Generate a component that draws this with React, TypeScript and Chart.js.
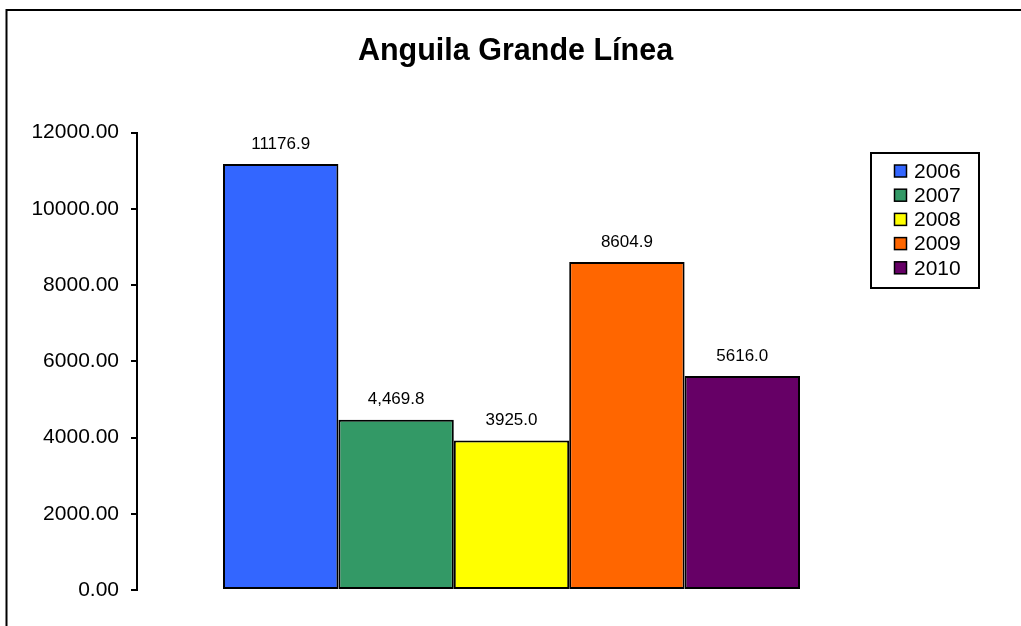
import React, { useEffect, useRef } from "react";
import { Chart, registerables } from "chart.js";

Chart.register(...registerables);

const TITLE = "Anguila Grande Línea";
const CATEGORIES = [""];
const SERIES_LABELS = ["2006", "2007", "2008", "2009", "2010"];
const SERIES_VALUES = [11176.9, 4469.8, 3925.0, 8604.9, 5616.0];
const VALUE_LABELS = ["11176.9", "4,469.8", "3925.0", "8604.9", "5616.0"];
const SERIES_COLORS = ["#3366FF", "#339966", "#FFFF00", "#FF6600", "#660066"];
const Y_MIN = 0;
const Y_MAX = 12000;
const Y_STEP = 2000;

const FONT = "'Liberation Sans', Arial, Helvetica, sans-serif";

const decorPlugin = {
  id: "decor",
  beforeDraw(chart: any) {
    const ctx = chart.ctx;
    ctx.save();
    ctx.fillStyle = "#ffffff";
    ctx.fillRect(0, 0, chart.width, chart.height);
    ctx.strokeStyle = "#000";
    ctx.lineWidth = 2;
    ctx.beginPath();
    ctx.moveTo(6.5, chart.height + 10);
    ctx.lineTo(6.5, 10);
    ctx.lineTo(chart.width + 10, 10);
    ctx.stroke();
    // title
    ctx.fillStyle = "#000";
    ctx.font = `bold 30.5px ${FONT}`;
    ctx.textAlign = "center";
    ctx.textBaseline = "middle";
    ctx.fillText(TITLE, 515.5, 52);
    ctx.restore();
  },
  afterDatasetsDraw(chart: any) {
    const ctx = chart.ctx;
    ctx.save();
    ctx.fillStyle = "#000";
    ctx.font = `17px ${FONT}`;
    ctx.textAlign = "center";
    ctx.textBaseline = "middle";
    chart.data.datasets.forEach((ds: any, i: number) => {
      const meta = chart.getDatasetMeta(i);
      const el = meta.data[0];
      if (!el) return;
      ctx.fillText(VALUE_LABELS[i], el.x, el.y - 20);
    });
    // legend
    const bx = 871, by = 153, bw = 108, bh = 135;
    ctx.lineWidth = 2;
    ctx.strokeStyle = "#000";
    ctx.strokeRect(bx, by, bw, bh);
    ctx.font = `21px ${FONT}`;
    ctx.textAlign = "left";
    chart.data.datasets.forEach((ds: any, i: number) => {
      const cy = 171 + i * 24.2;
      ctx.fillStyle = ds.backgroundColor;
      ctx.fillRect(894.5, cy - 6, 12, 12);
      ctx.lineWidth = 1.5;
      ctx.strokeRect(894.5, cy - 6, 12, 12);
      ctx.fillStyle = "#000";
      ctx.fillText(ds.label, 914, cy + 1);
    });
    ctx.restore();
  },
};

export default function App() {
  const ref = useRef<HTMLCanvasElement>(null);
  useEffect(() => {
    if (!ref.current) return;
    const chart = new Chart(ref.current, {
      type: "bar",
      data: {
        labels: CATEGORIES,
        datasets: SERIES_LABELS.map((lab, i) => ({
          label: lab,
          data: [SERIES_VALUES[i]],
          backgroundColor: SERIES_COLORS[i],
          borderColor: "#000",
          borderWidth: 2,
          borderSkipped: false,
          barPercentage: 1,
          categoryPercentage: 577 / 749,
        })),
      },
      options: {
        responsive: false,
        animation: false,
        layout: { padding: { left: 0, right: 135, top: 132.7, bottom: 36 } },
        plugins: {
          legend: { display: false },
          title: { display: false },
          tooltip: { enabled: false },
        },
        scales: {
          x: { display: false },
          y: {
            min: Y_MIN,
            max: Y_MAX,
            ticks: {
              stepSize: Y_STEP,
              padding: 12,
              color: "#000",
              font: { family: FONT, size: 21 },
              callback: (v: any) => Number(v).toFixed(2),
            },
            grid: {
              drawOnChartArea: false,
              drawTicks: true,
              tickLength: 6,
              color: "#000",
              lineWidth: 2,
            },
            border: { display: true, color: "#000", width: 2 },
            afterFit: (scale: any) => {
              scale.width = 137;
            },
          },
        },
      },
      plugins: [decorPlugin],
    });
    return () => chart.destroy();
  }, []);
  return (
    <div style={{ position: "fixed", left: 0, top: 0, width: 1021, height: 626 }}>
      <canvas ref={ref} width={1021} height={626} style={{ display: "block" }} />
    </div>
  );
}
